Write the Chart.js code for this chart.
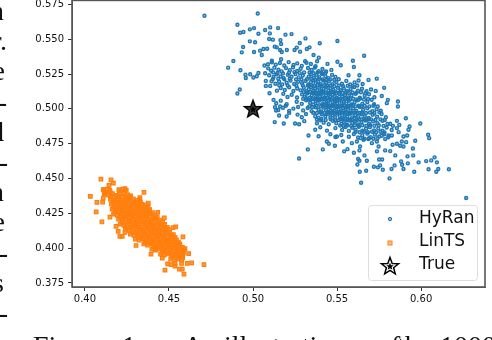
<!DOCTYPE html>
<html lang="en">
<head>
    <meta charset="UTF-8">
    <title>HyRan vs LinTS</title>
    <script src="https://cdn.jsdelivr.net/npm/chart.js"></script>
    <style>
        body {
            margin: 0;
            width: 492px;
            height: 340px;
            overflow: hidden;
            position: relative;
            background: #fff;
        }
        /* canvas sits 5px above the page so the top spine ends up at the very top */
        #wrap { position: absolute; left: 0; top: -5px; width: 492px; height: 345px; }
        .page {
            position: absolute;
            font-family: 'Liberation Serif', serif;
            font-size: 28px;
            line-height: 28px;
            color: #111;
            white-space: nowrap;
        }
    </style>
</head>
<body>
    <div id="wrap"><canvas id="chart" width="492" height="345"></canvas></div>
    <script>
        const xTicks = [0.40, 0.45, 0.50, 0.55, 0.60];
        const yTicks = [0.375, 0.400, 0.425, 0.450, 0.475, 0.500, 0.525, 0.550, 0.575];
        const legendLabels = ['HyRan', 'LinTS', 'True'];
        const truePoint = [[0.50, 0.50]];

        // sparse points around the blue cloud, read one by one
        const hyranOutliers = [
            [.4711,.5669],[.5028,.5685],[.4907,.5604],[.4981,.5571],[.5006,.5580],[.5102,.5585],[.5072,.5566],[.5149,.5580],
            [.4923,.5547],[.4943,.5552],[.5032,.5540],[.5100,.5542],[.5193,.5533],[.5229,.5537],[.5312,.5506],[.5096,.5502],
            [.5118,.5497],[.5163,.5494],[.4981,.5485],[.5012,.5478],[.5278,.5473],[.5397,.5471],[.5502,.5487],[.4941,.5444],
            [.4933,.5406],[.5006,.5409],[.5042,.5418],[.5062,.5430],[.5084,.5432],[.5129,.5447],[.5167,.5466],[.5141,.5442],
            [.5161,.5423],[.5171,.5409],[.5201,.5423],[.5247,.5423],[.5260,.5440],[.5320,.5430],[.5336,.5442],[.5280,.5411],
            [.5360,.5387],[.5661,.5382],[.5052,.5387],[.4883,.5344],[.4852,.5296],[.4925,.5277],[.4955,.5246],[.4957,.5222],
            [.4983,.5249],[.5002,.5225],[.5022,.5234],[.5032,.5258],[.5072,.5256],[.4921,.5139],[.4907,.5110],[.5076,.5201],
            [.5076,.5165],[.5102,.5165],[.5098,.5112],[.5122,.5065],[.5131,.5012],[.5161,.5017],[.5195,.5022],[.5137,.4988],
            [.5155,.4952],[.5215,.4971],[.5129,.4905],[.5183,.4895],[.5250,.4895],[.5274,.4890],[.5330,.4809],[.5326,.4709],
            [.5274,.4644],[.5415,.4709],[.5439,.4766],[.5451,.4750],[.5487,.4735],[.5542,.4695],[.5562,.4711],[.5600,.4685],
            [.5633,.4702],[.5663,.4666],[.5625,.4640],[.5633,.4628],[.5621,.4601],[.5677,.4628],[.5635,.4549],[.5673,.4556],
            [.5643,.4470],[.5719,.4585],[.5750,.4637],[.5768,.4637],[.5756,.4594],[.5743,.4580],[.5772,.4563],[.5824,.4568],
            [.5842,.4594],[.5812,.4501],[.5881,.4623],[.5887,.4599],[.5895,.4568],[.5921,.4609],[.5959,.4549],[.5919,.4659],
            [.5953,.4666],[.5985,.4616],[.6030,.4625],[.6060,.4630],[.6080,.4652],[.6094,.4616],[.6044,.4566],[.6090,.4549],
            [.6102,.4568],[.6165,.4566],[.6268,.4360],[.6042,.4814],[.6048,.4790],[.5995,.4895],[.5909,.4933],[.5965,.4771],
            [.5951,.4716],[.5931,.4874],[.5925,.4850],[.5917,.4809],[.5895,.4802],[.5856,.4914],[.5862,.5053],[.5862,.5017],
            [.5802,.5065],[.5796,.5041],[.5766,.5093],[.5780,.5151],[.5736,.5217],[.5687,.5208],[.5633,.5241],[.5568,.5241],
            [.5594,.5346],[.5600,.5301],[.5522,.5313],[.5502,.5339],[.5443,.5323],[.5381,.5342],[.5391,.5368],[.5310,.5342],
            [.5167,.5356],[.5112,.5346],[.5068,.5311],[.5846,.4666],[.5816,.4697],[.5786,.4702],[.5737,.4695],[.5830,.4742],
            [.5856,.4750],[.5885,.4766],[.5911,.4761],[.5895,.4730],[.5875,.4735],[.5806,.4809],[.5826,.4809],[.5786,.4783],
            [.5766,.4807],[.5737,.4766],[.5747,.4730],[.5707,.4754],[.5687,.4783],[.5657,.4778],[.5637,.4730],[.5618,.4766],
            [.5588,.4754],[.5534,.4766],[.5499,.4802],[.5866,.4833],[.5832,.4878],[.5816,.4893],[.5870,.4885],[.5856,.4862]
        ];

        // the dense part of the blue cloud, estimated row by row
        const hyranCore = [
            [.5089,.5321],[.5112,.5334],[.5135,.5318],[.5160,.5329],[.5186,.5312],[.5212,.5336],[.5241,.5316],[.5263,.5327],[.5290,.5309],[.5318,.5331],[.5344,.5322],[.5372,.5306],
            [.5090,.5291],[.5108,.5274],[.5127,.5296],[.5151,.5281],[.5170,.5269],[.5196,.5293],[.5219,.5278],[.5238,.5299],[.5262,.5272],[.5283,.5288],[.5327,.5294],[.5349,.5279],[.5368,.5297],[.5390,.5271],[.5413,.5286],[.5435,.5268],[.5466,.5280],
            [.5096,.5241],[.5122,.5229],[.5140,.5248],[.5164,.5233],[.5181,.5222],[.5207,.5245],[.5229,.5231],[.5252,.5250],[.5271,.5226],[.5296,.5240],[.5331,.5232],[.5345,.5249],[.5362,.5224],[.5377,.5243],[.5394,.5228],[.5412,.5251],[.5431,.5235],[.5449,.5221],[.5470,.5244],[.5490,.5230],
            [.5110,.5198],[.5133,.5181],[.5155,.5196],[.5174,.5176],[.5200,.5188],[.5223,.5203],[.5245,.5179],[.5268,.5194],[.5292,.5184],[.5312,.5201],[.5330,.5175],[.5344,.5192],[.5358,.5206],[.5372,.5183],[.5388,.5197],[.5402,.5177],[.5418,.5204],[.5435,.5186],[.5451,.5199],[.5472,.5178],[.5495,.5193],[.5529,.5181],[.5555,.5201],[.5578,.5176],[.5604,.5190],[.5628,.5204],[.5652,.5179],
            [.5142,.5131],[.5165,.5150],[.5189,.5136],[.5215,.5155],[.5240,.5128],[.5263,.5146],[.5283,.5133],[.5302,.5152],[.5317,.5127],[.5331,.5141],[.5345,.5156],[.5358,.5130],[.5370,.5148],[.5382,.5135],[.5395,.5153],[.5408,.5129],[.5421,.5144],[.5434,.5157],[.5448,.5132],[.5461,.5149],[.5476,.5137],[.5490,.5126],[.5505,.5151],[.5522,.5134],[.5540,.5147],[.5559,.5128],[.5580,.5142],[.5601,.5156],[.5624,.5131],[.5648,.5145],[.5675,.5127],[.5702,.5139],[.5730,.5129],
            [.5180,.5108],[.5205,.5085],[.5230,.5101],[.5262,.5082],[.5292,.5104],[.5308,.5088],[.5322,.5110],[.5336,.5079],[.5349,.5098],[.5361,.5112],[.5373,.5084],[.5386,.5103],[.5398,.5091],[.5410,.5109],[.5423,.5080],[.5435,.5097],[.5447,.5111],[.5460,.5086],[.5473,.5102],[.5486,.5092],[.5500,.5078],[.5514,.5106],[.5530,.5087],[.5548,.5100],[.5567,.5083],[.5586,.5096],[.5610,.5108],[.5635,.5081],[.5664,.5094],[.5690,.5105],[.5722,.5084],
            [.5138,.5040],[.5165,.5059],[.5200,.5034],[.5260,.5051],[.5290,.5036],[.5316,.5062],[.5340,.5044],[.5358,.5031],[.5372,.5057],[.5385,.5041],[.5398,.5063],[.5411,.5033],[.5424,.5050],[.5436,.5037],[.5449,.5060],[.5461,.5043],[.5474,.5030],[.5487,.5055],[.5500,.5039],[.5513,.5061],[.5526,.5035],[.5540,.5052],[.5555,.5038],[.5570,.5058],[.5586,.5032],[.5604,.5047],[.5624,.5062],[.5650,.5036],[.5680,.5049],[.5720,.5033],
            [.5150,.4992],[.5178,.5008],[.5215,.4986],[.5240,.5002],[.5268,.5013],[.5298,.4989],[.5325,.5006],[.5348,.4984],[.5372,.5011],[.5390,.4994],[.5405,.4982],[.5420,.5009],[.5434,.4991],[.5447,.5014],[.5460,.4987],[.5473,.5003],[.5485,.4985],[.5497,.5012],[.5510,.4996],[.5523,.4983],[.5536,.5007],[.5550,.4990],[.5565,.5010],[.5580,.4988],[.5596,.5004],[.5615,.4986],[.5635,.5013],[.5655,.4993],[.5680,.5005],[.5710,.4984],[.5735,.4998],[.5760,.4987],
            [.5200,.4945],[.5265,.4959],[.5290,.4940],[.5315,.4963],[.5370,.4946],[.5390,.4937],[.5410,.4961],[.5430,.4944],[.5446,.4964],[.5460,.4938],[.5474,.4955],[.5488,.4942],[.5502,.4966],[.5516,.4948],[.5530,.4936],[.5545,.4960],[.5560,.4943],[.5575,.4965],[.5590,.4939],[.5608,.4956],[.5626,.4941],[.5645,.4962],[.5665,.4947],[.5688,.4935],[.5712,.4958],[.5738,.4944],[.5765,.4963],[.5790,.4940],
            [.5305,.4912],[.5380,.4897],[.5400,.4918],[.5420,.4901],[.5450,.4890],[.5475,.4914],[.5495,.4896],[.5510,.4919],[.5525,.4892],[.5540,.4908],[.5556,.4888],[.5572,.4916],[.5590,.4899],[.5608,.4913],[.5625,.4889],[.5645,.4905],[.5668,.4917],[.5690,.4893],[.5715,.4910],[.5740,.4898],[.5770,.4915],[.5800,.4891],
            [.5370,.4850],[.5400,.4868],[.5440,.4844],[.5490,.4862],[.5530,.4849],[.5550,.4870],[.5570,.4842],[.5590,.4864],[.5610,.4851],[.5630,.4871],[.5650,.4843],[.5672,.4858],[.5695,.4869],[.5720,.4846],[.5745,.4860],[.5770,.4844],[.5795,.4866],[.5825,.4848],
            [.5390,.4803],[.5460,.4818],[.5490,.4798],[.5525,.4812],[.5570,.4800],[.5600,.4820],[.5625,.4795],[.5650,.4810],[.5680,.4822],[.5700,.4797],[.5725,.4815],[.5750,.4802],[.5780,.4818],[.5805,.4796],
            // extra in the darkest middle
            [.5340,.5122],[.5366,.5118],[.5392,.5115],[.5418,.5120],[.5444,.5114],[.5470,.5122],[.5328,.5068],[.5352,.5072],[.5380,.5070],[.5404,.5074],[.5430,.5069],[.5456,.5073],[.5482,.5068],[.5508,.5072],[.5534,.5067],
            [.5414,.5022],[.5440,.5026],[.5466,.5021],[.5492,.5025],[.5518,.5020],[.5544,.5024],[.5570,.5021],[.5596,.5025],[.5452,.4976],[.5478,.4972],[.5504,.4977],[.5530,.4973],[.5556,.4976],[.5582,.4972],[.5608,.4975],[.5634,.4971],
            [.5380,.4925],[.5406,.4928],[.5520,.4926],[.5548,.4929],[.5576,.4925],[.5604,.4930],[.5632,.4926],[.5660,.4929],[.5688,.4925]
        ];

        // second pass over the cloud where the picture is still solid blue
        const hyranFill = [
            [.5120,.5262],[.5146,.5258],[.5178,.5255],[.5214,.5260],[.5246,.5264],[.5278,.5257],[.5304,.5262],[.5336,.5261],[.5360,.5256],[.5384,.5262],[.5408,.5258],[.5430,.5257],
            [.5118,.5214],[.5150,.5216],[.5186,.5212],[.5218,.5217],[.5256,.5211],[.5288,.5213],[.5320,.5213],[.5346,.5216],[.5370,.5210],[.5392,.5214],[.5414,.5212],[.5440,.5209],[.5462,.5212],[.5484,.5207],[.5510,.5213],
            [.5326,.5168],[.5348,.5169],[.5366,.5165],[.5384,.5171],[.5404,.5164],[.5424,.5170],[.5442,.5166],[.5462,.5168],[.5484,.5163],[.5510,.5168],[.5536,.5163],[.5564,.5166],[.5592,.5162],[.5620,.5168],[.5156,.5170],[.5206,.5168],[.5258,.5166],[.5296,.5169],
            [.5302,.5120],[.5326,.5117],[.5354,.5116],[.5378,.5113],[.5404,.5122],[.5430,.5118],[.5456,.5116],[.5482,.5118],[.5498,.5114],[.5516,.5119],[.5534,.5115],[.5552,.5118],[.5570,.5114],[.5592,.5118],[.5616,.5116],[.5642,.5119],[.5668,.5113],
            [.5298,.5072],[.5316,.5076],[.5344,.5066],[.5368,.5070],[.5392,.5066],[.5418,.5072],[.5442,.5078],[.5468,.5068],[.5494,.5064],[.5520,.5074],[.5546,.5069],[.5562,.5073],[.5578,.5068],[.5596,.5072],[.5614,.5068],[.5636,.5073],[.5660,.5067],[.5684,.5071],[.5706,.5066],
            [.5334,.5018],[.5352,.5014],[.5378,.5022],[.5402,.5018],[.5426,.5024],[.5452,.5016],[.5478,.5022],[.5504,.5016],[.5530,.5021],[.5556,.5017],[.5582,.5024],[.5610,.5018],[.5628,.5023],[.5646,.5018],[.5664,.5022],[.5692,.5018],[.5716,.5022],[.5742,.5017],
            [.5358,.4972],[.5380,.4970],[.5402,.4974],[.5424,.4970],[.5440,.4974],[.5466,.4970],[.5492,.4973],[.5518,.4970],[.5544,.4973],[.5570,.4970],[.5596,.4973],[.5622,.4970],[.5648,.4974],[.5672,.4970],[.5696,.4974],[.5722,.4970],[.5752,.4975],
            [.5432,.4920],[.5462,.4925],[.5488,.4920],[.5536,.4924],[.5562,.4920],[.5590,.4925],[.5618,.4920],[.5646,.4925],[.5674,.4920],[.5702,.4925],[.5728,.4920],[.5758,.4925],[.5784,.4920],
            [.5518,.4880],[.5540,.4876],[.5562,.4882],[.5584,.4878],[.5606,.4882],[.5628,.4878],[.5650,.4882],[.5674,.4878],[.5698,.4882],[.5722,.4878],[.5748,.4882],[.5776,.4878],
            [.5610,.4836],[.5634,.4832],[.5660,.4836],[.5684,.4832],[.5708,.4836],[.5732,.4832],[.5758,.4836],[.5782,.4830],[.5640,.4790],[.5664,.4786],[.5690,.4790],[.5716,.4786],[.5740,.4790]
        ];

        // sparse orange points
        const lintsOutliers = [
            [.4095,.4496],[.4155,.4491],[.4169,.4467],[.4143,.4451],[.4032,.4372],[.4071,.4329],[.4067,.4260],[.4101,.4188],
            [.4109,.4420],[.4119,.4396],[.4109,.4360],[.4105,.4331],[.4202,.4420],[.4238,.4427],[.4351,.4401],[.4327,.4362],
            [.4377,.4324],[.4149,.4222],[.4185,.4157],[.4198,.4121],[.4208,.4085],[.4222,.4085],[.4238,.4114],[.4304,.4019],
            [.4433,.4257],[.4472,.4217],[.4540,.4152],[.4524,.4148],[.4526,.4097],[.4583,.4081],[.4393,.3957],[.4417,.3990],
            [.4460,.3928],[.4492,.3887],[.4512,.3882],[.4536,.3890],[.4536,.3871],[.4575,.3890],[.4562,.3849],[.4579,.3849],
            [.4476,.3842],[.4589,.3813],[.4609,.3890],[.4635,.3894],[.4708,.3882],[.4617,.3961],[.4595,.3997],[.4581,.3930],
            [.4565,.4021]
        ];

        // dense orange band, row by row
        const lintsCore = [
            [.4112,.4418],[.4134,.4424],[.4148,.4414],[.4205,.4412],[.4226,.4423],[.4246,.4415],
            [.4115,.4388],[.4140,.4380],[.4163,.4391],[.4186,.4379],[.4209,.4387],[.4232,.4393],[.4255,.4382],[.4272,.4376],
            [.4152,.4350],[.4176,.4344],[.4198,.4354],[.4220,.4342],[.4243,.4351],[.4265,.4345],[.4288,.4353],[.4308,.4343],[.4326,.4349],
            [.4158,.4316],[.4180,.4307],[.4202,.4318],[.4226,.4306],[.4248,.4315],[.4270,.4308],[.4292,.4317],[.4316,.4305],[.4338,.4314],[.4364,.4310],
            [.4162,.4280],[.4184,.4270],[.4206,.4282],[.4228,.4272],[.4250,.4279],[.4272,.4269],[.4296,.4281],[.4320,.4271],[.4342,.4278],[.4364,.4270],[.4385,.4277],
            [.4170,.4244],[.4192,.4236],[.4214,.4246],[.4236,.4235],[.4258,.4243],[.4280,.4237],[.4302,.4245],[.4324,.4234],[.4346,.4242],[.4368,.4236],[.4390,.4244],[.4415,.4238],
            [.4200,.4208],[.4222,.4199],[.4244,.4210],[.4266,.4200],[.4288,.4207],[.4310,.4198],[.4332,.4209],[.4354,.4201],[.4376,.4206],[.4398,.4199],[.4420,.4208],[.4444,.4202],
            [.4210,.4172],[.4232,.4164],[.4254,.4173],[.4276,.4163],[.4298,.4171],[.4320,.4165],[.4342,.4174],[.4364,.4163],[.4386,.4170],[.4408,.4165],[.4430,.4173],[.4452,.4164],[.4474,.4170],
            [.4240,.4136],[.4262,.4128],[.4284,.4138],[.4306,.4129],[.4328,.4135],[.4350,.4127],[.4372,.4137],[.4394,.4130],[.4416,.4134],[.4438,.4128],[.4460,.4137],[.4480,.4129],[.4496,.4134],
            [.4270,.4100],[.4292,.4092],[.4314,.4101],[.4336,.4093],[.4358,.4099],[.4380,.4091],[.4402,.4102],[.4424,.4094],[.4446,.4098],[.4468,.4092],[.4490,.4101],[.4514,.4094],
            [.4300,.4065],[.4322,.4058],[.4344,.4066],[.4366,.4057],[.4388,.4064],[.4410,.4059],[.4432,.4067],[.4454,.4058],[.4476,.4063],[.4498,.4057],[.4520,.4066],[.4544,.4060],
            [.4350,.4030],[.4372,.4022],[.4394,.4031],[.4416,.4023],[.4438,.4029],[.4460,.4021],[.4482,.4032],[.4504,.4024],[.4526,.4028],[.4548,.4022],[.4563,.4030],
            [.4398,.3993],[.4420,.3986],[.4442,.3994],[.4464,.3985],[.4486,.3992],[.4508,.3987],[.4530,.3995],[.4552,.3986],[.4574,.3991],[.4590,.3987],
            [.4450,.3957],[.4472,.3950],[.4494,.3958],[.4516,.3951],[.4538,.3956],[.4560,.3950],[.4582,.3957],
            [.4510,.3922],[.4532,.3915],[.4554,.3923],[.4576,.3916]
        ];

        // in between the rows above, the band has no gaps in the picture
        const lintsFill = [
            [.4124,.4402],[.4150,.4402],[.4174,.4368],[.4198,.4370],[.4222,.4368],[.4246,.4366],[.4268,.4364],[.4152,.4368],
            [.4168,.4332],[.4190,.4332],[.4214,.4330],[.4236,.4332],[.4258,.4330],[.4282,.4332],[.4304,.4328],[.4330,.4330],
            [.4172,.4296],[.4194,.4294],[.4216,.4296],[.4238,.4294],[.4260,.4296],[.4284,.4294],[.4306,.4296],[.4330,.4294],[.4352,.4292],[.4376,.4294],
            [.4178,.4258],[.4200,.4258],[.4222,.4260],[.4244,.4258],[.4266,.4256],[.4288,.4258],[.4310,.4258],[.4332,.4256],[.4354,.4258],[.4378,.4256],[.4402,.4256],
            [.4210,.4224],[.4232,.4222],[.4254,.4224],[.4276,.4222],[.4298,.4224],[.4320,.4222],[.4342,.4224],[.4364,.4222],[.4386,.4222],[.4408,.4220],[.4430,.4222],
            [.4220,.4186],[.4242,.4186],[.4264,.4188],[.4286,.4186],[.4308,.4186],[.4330,.4188],[.4352,.4186],[.4374,.4186],[.4396,.4184],[.4418,.4186],[.4440,.4184],[.4462,.4186],
            [.4250,.4150],[.4272,.4150],[.4294,.4152],[.4316,.4150],[.4338,.4150],[.4360,.4152],[.4382,.4150],[.4404,.4150],[.4426,.4148],[.4448,.4150],[.4470,.4150],[.4490,.4150],
            [.4282,.4114],[.4304,.4114],[.4326,.4116],[.4348,.4114],[.4370,.4114],[.4392,.4116],[.4414,.4114],[.4436,.4114],[.4458,.4112],[.4480,.4114],[.4504,.4114],
            [.4314,.4078],[.4336,.4078],[.4358,.4080],[.4380,.4078],[.4402,.4078],[.4424,.4080],[.4446,.4078],[.4468,.4076],[.4490,.4078],[.4512,.4078],[.4536,.4078],
            [.4360,.4044],[.4382,.4044],[.4404,.4042],[.4426,.4044],[.4448,.4042],[.4470,.4044],[.4492,.4044],[.4514,.4042],[.4536,.4044],[.4556,.4044],
            [.4408,.4008],[.4430,.4008],[.4452,.4006],[.4474,.4008],[.4496,.4008],[.4518,.4006],[.4540,.4008],[.4562,.4008],[.4580,.4006],
            [.4462,.3972],[.4484,.3972],[.4506,.3970],[.4528,.3972],[.4550,.3970],[.4572,.3972],[.4586,.3968],
            [.4520,.3938],[.4542,.3936],[.4564,.3938],[.4582,.3938]
        ];

        // text of the paper around the figure, cut off at the edge
        const sideText = ['n', 'r.', 'e', '-', 'd', '-', 'n', 'e', '-', 's', '-'];
        const sideRight = [4, 7, 5, 7, 4, 8, 4, 5, 8, 4, 8];
        const captionWords = ['Figure', '1:', 'An', 'illustration', 'of', 'the', '1000'];
        const captionLeft = [33, 122, 183, 224, 377, 397, 440];

        sideText.forEach((t, i) => {
            const s = document.createElement('div');
            s.className = 'page';
            s.textContent = t;
            s.style.right = (492 - sideRight[i]) + 'px';
            s.style.top = (-3 + i * 30.2) + 'px';
            document.body.appendChild(s);
        });
        captionWords.forEach((t, i) => {
            const s = document.createElement('div');
            s.className = 'page';
            s.textContent = t;
            s.style.left = captionLeft[i] + 'px';
            s.style.top = '332px';
            document.body.appendChild(s);
        });

        function makeStar(fill, innerFill) {
            const c = document.createElement('canvas');
            c.width = 24;
            c.height = 24;
            const g = c.getContext('2d');
            function path(r) {
                g.beginPath();
                for (let i = 0; i < 10; i++) {
                    const rad = i % 2 ? r * 0.42 : r;
                    const a = -Math.PI / 2 + i * Math.PI / 5;
                    g.lineTo(12 + rad * Math.cos(a), 12.5 + rad * Math.sin(a));
                }
                g.closePath();
            }
            path(9);
            g.fillStyle = fill;
            g.fill();
            g.lineWidth = 1.5;
            g.strokeStyle = '#000';
            g.stroke();
            path(4);
            g.fillStyle = innerFill;
            g.fill();
            return c;
        }
        const plotStar = makeStar('#444', '#000');
        const legendStar = makeStar('#fff', '#000');

        const BLUE = '#1f77b4';
        const ORANGE = '#ff7f0e';

        const frameAndLegend = {
            id: 'frameAndLegend',
            afterDraw(chart) {
                const { ctx, chartArea: a } = chart;
                ctx.save();
                ctx.strokeStyle = '#555';
                ctx.lineWidth = 1.6;
                ctx.strokeRect(a.left, a.top, a.right - a.left, a.bottom - a.top);

                // legend coordinates are page ones, the canvas starts 5px higher
                ctx.translate(0, 5);
                ctx.fillStyle = 'rgba(255,255,255,0.9)';
                ctx.strokeStyle = '#ddd';
                ctx.lineWidth = 1;
                ctx.beginPath();
                ctx.roundRect(368.5, 205.5, 109, 75, 3);
                ctx.fill();
                ctx.stroke();

                ctx.beginPath();
                ctx.arc(390, 219, 1.7, 0, Math.PI * 2);
                ctx.fillStyle = 'rgba(31,119,180,0.5)';
                ctx.strokeStyle = BLUE;
                ctx.fill();
                ctx.stroke();
                ctx.fillStyle = 'rgba(255,127,14,0.5)';
                ctx.strokeStyle = ORANGE;
                ctx.fillRect(388, 241, 4, 4);
                ctx.strokeRect(388, 241, 4, 4);
                ctx.drawImage(legendStar, 378, 254);

                ctx.fillStyle = '#111';
                ctx.font = '17px "DejaVu Sans"';
                ctx.textBaseline = 'middle';
                [219, 242, 265].forEach((y, i) => ctx.fillText(legendLabels[i], 419, y));
                ctx.restore();
            }
        };

        const tickFont = { family: 'DejaVu Sans', size: 10 };

        new Chart(document.getElementById('chart'), {
            type: 'scatter',
            data: {
                datasets: [
                    {
                        label: legendLabels[2],
                        data: truePoint.map(([x, y]) => ({ x, y })),
                        pointStyle: plotStar,
                        order: 0
                    },
                    {
                        label: legendLabels[1],
                        data: lintsOutliers.concat(lintsCore, lintsFill).map(([x, y]) => ({ x, y })),
                        pointStyle: 'rect',
                        pointRadius: 2.5,
                        borderWidth: 1.2,
                        borderColor: ORANGE,
                        backgroundColor: 'rgba(255,127,14,0.8)',
                        order: 1
                    },
                    {
                        label: legendLabels[0],
                        data: hyranOutliers.concat(hyranCore, hyranFill).map(([x, y]) => ({ x, y })),
                        pointStyle: 'circle',
                        pointRadius: 1.5,
                        borderWidth: 1.4,
                        borderColor: BLUE,
                        backgroundColor: 'rgba(31,119,180,0.4)',
                        order: 2
                    }
                ]
            },
            options: {
                responsive: false,
                animation: false,
                layout: { padding: { top: 0, right: 7, left: 0, bottom: 0 } },
                plugins: { legend: { display: false }, tooltip: { enabled: false } },
                scales: {
                    x: {
                        type: 'linear',
                        min: 0.3923,
                        max: 0.638,
                        afterBuildTicks: s => { s.ticks = xTicks.map(value => ({ value })); },
                        afterFit: s => { s.height = 53; s.paddingLeft = 0; s.paddingRight = 0; },
                        grid: { drawOnChartArea: false, tickLength: 4, tickColor: '#333' },
                        border: { color: '#555' },
                        ticks: {
                            font: tickFont,
                            color: '#111',
                            padding: 2,
                            maxRotation: 0,
                            autoSkip: false,
                            callback: v => v.toFixed(2)
                        }
                    },
                    y: {
                        min: 0.3721,
                        max: 0.5779,
                        afterBuildTicks: s => { s.ticks = yTicks.map(value => ({ value })); },
                        afterFit: s => { s.width = 72; s.paddingTop = 0; s.paddingBottom = 0; },
                        grid: { drawOnChartArea: false, tickLength: 4, tickColor: '#333' },
                        border: { color: '#555' },
                        ticks: {
                            font: tickFont,
                            color: '#111',
                            padding: 4,
                            autoSkip: false,
                            callback: v => v.toFixed(3)
                        }
                    }
                }
            },
            plugins: [frameAndLegend]
        });
    </script>
</body>
</html>
